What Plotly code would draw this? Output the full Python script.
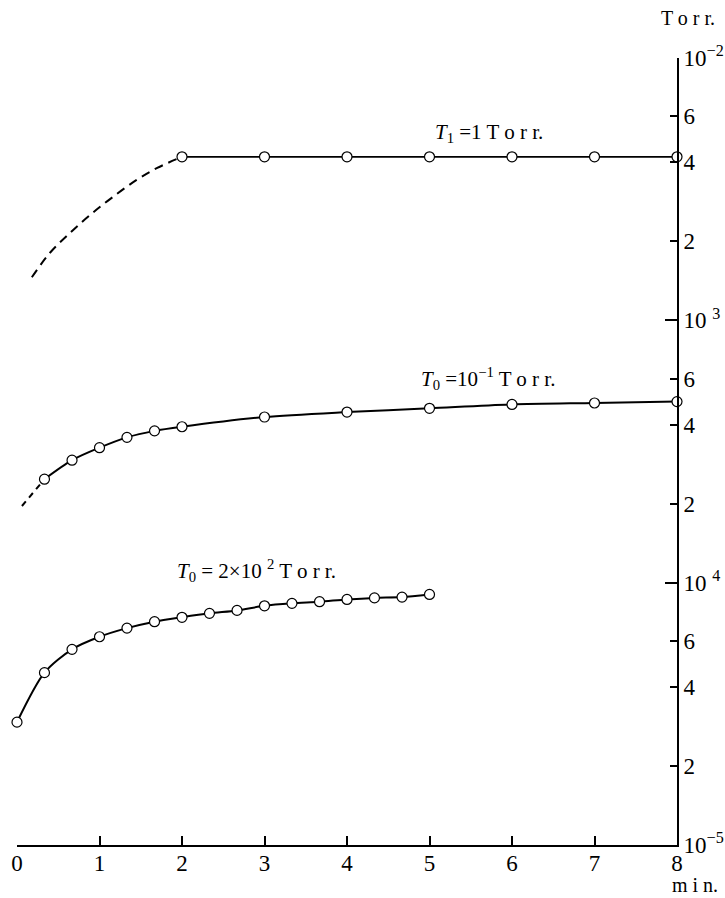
import plotly.graph_objects as go

# ---- data ----
# T1 = 1 Torr
s1_dash_x = [0.18, 0.40, 0.64, 0.885, 1.16, 1.45, 1.70, 2.0]
s1_dash_y = [1.46e-3, 1.81e-3, 2.15e-3, 2.52e-3, 2.95e-3, 3.43e-3, 3.81e-3, 4.20e-3]
s1_x = [2, 3, 4, 5, 6, 7, 8]
s1_y = [4.20e-3, 4.20e-3, 4.20e-3, 4.20e-3, 4.20e-3, 4.20e-3, 4.20e-3]

# T0 = 1e-1 Torr
s2_dash_x = [0.06, 0.333]
s2_dash_y = [1.96e-4, 2.48e-4]
s2_x = [0.333, 0.667, 1.0, 1.333, 1.667, 2.0, 3, 4, 5, 6, 7, 8]
s2_y = [2.48e-4, 2.93e-4, 3.27e-4, 3.58e-4, 3.79e-4, 3.93e-4,
        4.28e-4, 4.47e-4, 4.62e-4, 4.78e-4, 4.84e-4, 4.90e-4]

# T0 = 2e-2 Torr
s3_x = [0, 0.333, 0.667, 1.0, 1.333, 1.667, 2.0, 2.333, 2.667, 3.0,
        3.333, 3.667, 4.0, 4.333, 4.667, 5.0]
s3_y = [2.94e-5, 4.54e-5, 5.57e-5, 6.22e-5, 6.71e-5, 7.10e-5, 7.38e-5, 7.64e-5,
        7.84e-5, 8.16e-5, 8.34e-5, 8.46e-5, 8.63e-5, 8.75e-5, 8.81e-5, 9.02e-5]

x_ticks = [0, 1, 2, 3, 4, 5, 6, 7, 8]
y_ticks = [1e-2, 6e-3, 4e-3, 2e-3, 1e-3, 6e-4, 4e-4, 2e-4, 1e-4, 6e-5, 4e-5, 2e-5, 1e-5]
y_ticktext = ["10<sup>−2</sup>", "6", "4", "2", "10 <sup>3</sup>", "6", "4", "2",
              "10 <sup>4</sup>", "6", "4", "2", "10<sup>−5</sup>"]
decades = [1e-2, 1e-3, 1e-4, 1e-5]

FONT = "Liberation Serif"
TORR = "T o r r."
marker = dict(symbol="circle", size=10, color="white", line=dict(color="black", width=1.2))

fig = go.Figure()
fig.add_trace(go.Scatter(x=s1_dash_x, y=s1_dash_y, mode="lines",
                         line=dict(color="black", width=2, dash="9px,6px", shape="spline"),
                         cliponaxis=False))
fig.add_trace(go.Scatter(x=s1_x, y=s1_y, mode="lines+markers",
                         line=dict(color="black", width=1.6), marker=marker, cliponaxis=False))
fig.add_trace(go.Scatter(x=s2_dash_x, y=s2_dash_y, mode="lines",
                         line=dict(color="black", width=2, dash="6px,5px"), cliponaxis=False))
fig.add_trace(go.Scatter(x=s2_x, y=s2_y, mode="lines+markers",
                         line=dict(color="black", width=2, shape="spline", smoothing=0.8),
                         marker=marker, cliponaxis=False))
fig.add_trace(go.Scatter(x=s3_x, y=s3_y, mode="lines+markers",
                         line=dict(color="black", width=2, shape="spline", smoothing=0.8),
                         marker=marker, cliponaxis=False))

fig.update_layout(
    width=725, height=898,
    margin=dict(l=17, r=48, t=58, b=53),
    paper_bgcolor="white", plot_bgcolor="white",
    showlegend=False,
    font=dict(family=FONT, color="black", size=22),
    xaxis=dict(range=[0, 8], tickvals=x_ticks, ticktext=[str(v) for v in x_ticks],
               ticks="inside", ticklen=9, tickwidth=1.5, tickcolor="black",
               ticklabelstandoff=-4, automargin=False,
               showline=True, linecolor="black", linewidth=2,
               showgrid=False, zeroline=False, tickfont=dict(size=23, family=FONT)),
    yaxis=dict(type="log", range=[-5, -2], side="right", automargin=False,
               tickvals=y_ticks, ticktext=y_ticktext,
               ticks="inside", ticklen=7, tickwidth=1.5, tickcolor="black",
               minor=dict(tickvals=decades, ticks="inside", ticklen=12, tickwidth=1.5,
                          tickcolor="black", showgrid=False),
               showline=True, linecolor="black", linewidth=2,
               showgrid=False, zeroline=False, tickfont=dict(size=23, family=FONT)),
)

fig.add_annotation(x=5.72, y=-2.285, xref="x", yref="y",
                   text="<i>T</i><sub>1</sub> =1 " + TORR, showarrow=False,
                   font=dict(family=FONT, size=21))
fig.add_annotation(x=5.71, y=-3.22, xref="x", yref="y",
                   text="<i>T</i><sub>0</sub> =10<sup>−1</sup> " + TORR,
                   showarrow=False, font=dict(family=FONT, size=21))
fig.add_annotation(x=2.9, y=-3.955, xref="x", yref="y",
                   text="<i>T</i><sub>0</sub> = 2×10 <sup>2</sup> " + TORR,
                   showarrow=False, font=dict(family=FONT, size=21))
fig.add_annotation(x=(688 - 17) / 660, y=1 + (58 - 18) / 787, xref="paper", yref="paper",
                   xanchor="center", yanchor="middle", text=TORR,
                   showarrow=False, font=dict(family=FONT, size=20))
fig.add_annotation(x=(695 - 17) / 660, y=-(885 - 845) / 787, xref="paper", yref="paper",
                   xanchor="center", yanchor="middle", text="m i n.",
                   showarrow=False, font=dict(family=FONT, size=20))

fig.write_html("out.html")
